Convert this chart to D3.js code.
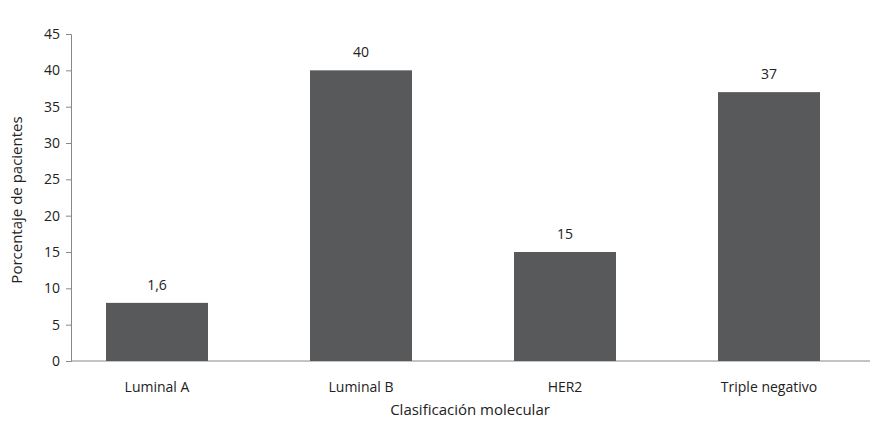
<!DOCTYPE html>
<html><head><meta charset="utf-8">
<script src="https://cdn.jsdelivr.net/npm/d3@7"></script>
<style>body{margin:0;background:#fff}text{font-family:"Open Sans","Noto Sans",sans-serif;fill:#222}</style>
</head><body>
<script>
var categories = ["Luminal A", "Luminal B", "HER2", "Triple negativo"];
var values = [8, 40, 15, 37];
var valueLabels = ["1,6", "40", "15", "37"];
var yTicks = [0, 5, 10, 15, 20, 25, 30, 35, 40, 45];

var w = 886, h = 425;
var svg = d3.select("body").append("svg").attr("width", w).attr("height", h);

var x = d3.scaleBand().domain(categories).range([55, 871]).paddingInner(0.5).paddingOuter(0.25);
var y = d3.scaleLinear().domain([0, 45]).range([361, 34]);

// y axis
var yAxis = svg.append("g").attr("transform", "translate(71,0)")
    .call(d3.axisLeft(y).tickValues(yTicks).tickSize(5).tickPadding(6));
yAxis.selectAll("path,line").attr("stroke", "#888");
yAxis.selectAll("text").style("font-size", "14px").attr("fill", "#222");

// x axis line
svg.append("line").attr("x1", 71).attr("x2", 870).attr("y1", y(0)).attr("y2", y(0))
   .attr("stroke", "#888");

svg.selectAll("rect.bar").data(values).enter().append("rect")
   .attr("x", (d, i) => x(categories[i]))
   .attr("width", x.bandwidth())
   .attr("y", d => y(d))
   .attr("height", d => y(0) - y(d))
   .attr("fill", "#58595b");

svg.selectAll("text.val").data(values).enter().append("text")
   .attr("x", (d, i) => x(categories[i]) + x.bandwidth() / 2)
   .attr("y", d => y(d) - 13)
   .attr("text-anchor", "middle").style("font-size", "14px")
   .text((d, i) => valueLabels[i]);

svg.selectAll("text.cat").data(categories).enter().append("text")
   .attr("x", d => x(d) + x.bandwidth() / 2)
   .attr("y", 392)
   .attr("text-anchor", "middle").style("font-size", "14px")
   .text(d => d);

svg.append("text").attr("x", 470).attr("y", 415).attr("text-anchor", "middle")
   .style("font-size", "15px").text("Clasificación molecular");

svg.append("text").attr("transform", "translate(22,200) rotate(-90)")
   .attr("text-anchor", "middle").style("font-size", "15px").text("Porcentaje de pacientes");
</script>
</body></html>
